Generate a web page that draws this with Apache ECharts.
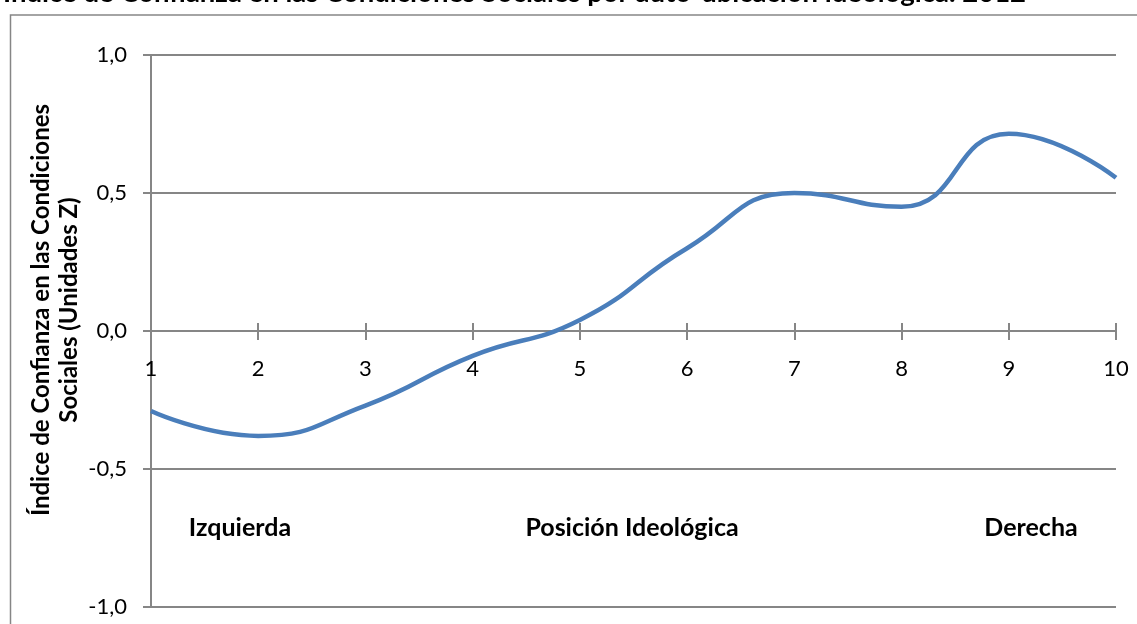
<!DOCTYPE html>
<html>
<head>
<meta charset="utf-8">
<script src="https://cdn.jsdelivr.net/npm/echarts@6/dist/echarts.min.js"></script>
<style>
  html, body { margin: 0; padding: 0; background: #fff; }
  #chart { width: 1137px; height: 624px; }
</style>
</head>
<body>
<div id="chart"></div>
<script>
// posiciones ideológicas (1 = izquierda, 10 = derecha)
var positions = [1, 2, 3, 4, 5, 6, 7, 8, 9, 10];
// índice de confianza (unidades Z)
var indexValues = [-0.29, -0.38, -0.27, -0.09, 0.04, 0.30, 0.50, 0.45, 0.715, 0.555];
var yTicks = [-1, -0.5, 0, 0.5, 1];
var sideLabels = ['Izquierda', 'Posición Ideológica', 'Derecha'];
var chartTitle = 'Índice de Confianza en las Condiciones Sociales por auto-ubicación ideológica. 2012';
var yName = 'Índice de Confianza en las Condiciones\nSociales (Unidades Z)';

var font = 'Lato, "Open Sans", sans-serif';
var grey = '#868686';
// distancia del borde inferior del área de trazado a la línea del cero
var zeroOffset = -276;

var chart = echarts.init(document.getElementById('chart'));

var seriesData = positions.map(function (p, i) { return [p, indexValues[i]]; });

chart.setOption({
  animation: false,
  grid: { left: 151, right: 21, top: 55, bottom: 17, outerBoundsMode: 'none', containLabel: false },
  graphic: [
    {
      type: 'rect',
      shape: { x: 10.5, y: 15, width: 1140, height: 620 },
      style: { fill: 'none', stroke: grey, lineWidth: 1.5 },
      silent: true
    },
    {
      type: 'text', x: 3, y: -21,
      style: { text: chartTitle, font: 'bold 27.5px ' + font, fill: '#000', verticalAlign: 'top' }
    },
    {
      type: 'text', x: 55, y: 310, rotation: Math.PI / 2,
      style: { text: yName, font: 'bold 24px ' + font, lineHeight: 28, fill: '#000', align: 'center', verticalAlign: 'middle' }
    },
    {
      type: 'text', x: 240, y: 528,
      style: { text: sideLabels[0], font: 'bold 25px ' + font, fill: '#000', align: 'center', verticalAlign: 'middle' }
    },
    {
      type: 'text', x: 632, y: 528,
      style: { text: sideLabels[1], font: 'bold 25px ' + font, fill: '#000', align: 'center', verticalAlign: 'middle' }
    },
    {
      type: 'text', x: 1031, y: 528,
      style: { text: sideLabels[2], font: 'bold 25px ' + font, fill: '#000', align: 'center', verticalAlign: 'middle' }
    }
  ],
  xAxis: [
    {
      // eje en el cero: etiquetas y marcas hacia abajo
      type: 'value', min: 1, max: 10, interval: 1, position: 'bottom', offset: zeroOffset,
      axisLine: { onZero: false, lineStyle: { color: grey, width: 2 } },
      axisTick: { show: true, length: 9, lineStyle: { color: grey, width: 2 } },
      axisLabel: { margin: 27, fontSize: 22, fontFamily: font, color: '#000' },
      splitLine: { show: false }
    },
    {
      // copia del eje para que las marcas crucen la línea (hacia arriba)
      type: 'value', min: 1, max: 10, interval: 1, position: 'top', offset: zeroOffset,
      axisLine: { onZero: false, lineStyle: { color: grey, width: 2 } },
      axisTick: { show: true, length: 8, lineStyle: { color: grey, width: 2 } },
      axisLabel: { show: false },
      splitLine: { show: false }
    }
  ],
  yAxis: {
    type: 'value', min: yTicks[0], max: yTicks[yTicks.length - 1], interval: 0.5,
    axisLine: { show: true, onZero: false, lineStyle: { color: grey, width: 2 } },
    axisTick: { show: true, length: 8, lineStyle: { color: grey, width: 2 } },
    axisLabel: {
      margin: 24, fontSize: 22, fontFamily: font, color: '#000',
      formatter: function (v) { return v.toFixed(1).replace('.', ','); }
    },
    splitLine: { show: true, lineStyle: { color: grey, width: 2 } }
  },
  series: [
    {
      type: 'line',
      data: seriesData,
      smooth: 0.5,
      symbol: 'none',
      lineStyle: { color: '#4A7EBB', width: 4.5 }
    }
  ]
});
</script>
</body>
</html>
